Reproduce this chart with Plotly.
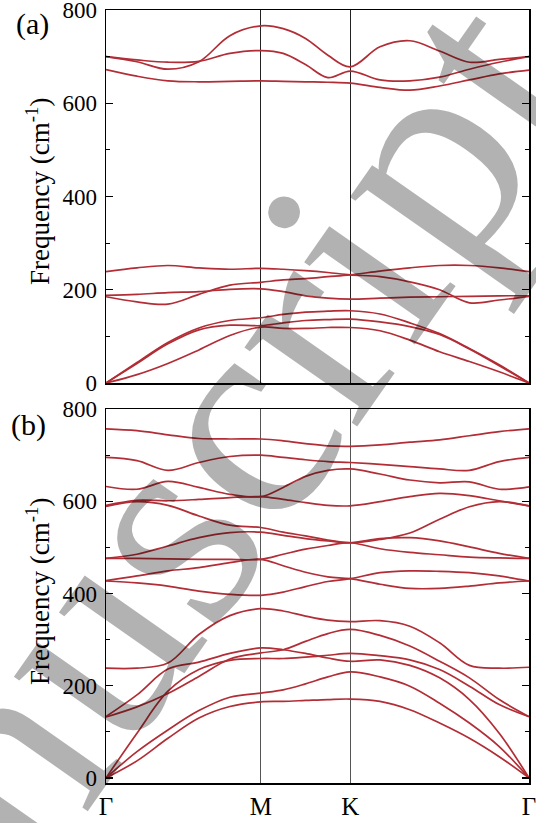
import plotly.graph_objects as go

# ---------------- k-path (Γ-M-K-Γ) ----------------
k_path = [0.0, 0.1155, 0.2309, 0.3464, 0.4619, 0.5774,
          0.6607, 0.7440, 0.8274, 0.9107,
          1.0218, 1.1329, 1.2440, 1.3552, 1.4663, 1.5774]
sym_pos = [0.0, 0.5774, 0.9107, 1.5774]
sym_labels = ["Γ", "M", "K", "Γ"]
y_ticks = [0, 200, 400, 600, 800]

# ---------------- panel (a) bands (cm^-1) ----------------
a_band1 = [672, 658, 648, 646, 647, 648, 647, 646, 645, 643, 634, 628, 637, 650, 663, 671]
a_band2 = [700, 689, 673, 689, 745, 766, 760, 739, 703, 678, 721, 734, 712, 688, 694, 700]
a_band3 = [700, 693, 688, 690, 707, 713, 707, 683, 655, 669, 650, 648, 656, 673, 688, 700]
a_band4 = [239, 247, 252, 247, 244, 246, 244, 241, 237, 232, 228, 217, 200, 172, 178, 186]
a_band5 = [185, 174, 169, 190, 210, 216, 221, 224, 228, 232, 240, 247, 252, 252, 247, 239]
a_band6 = [188, 190, 194, 196, 201, 202, 196, 187, 182, 180, 182, 184, 185, 186, 187, 187]
a_band7 = [0, 44, 87, 118, 134, 140, 147, 152, 154, 155, 148, 129, 106, 74, 39, 0]
a_band8 = [0, 42, 84, 114, 124, 123, 129, 134, 136, 137, 131, 121, 104, 73, 37, 0]
a_band9 = [0, 18, 42, 71, 102, 120, 117, 117, 119, 119, 112, 92, 67, 46, 24, 0]

# ---------------- panel (b) bands (cm^-1) ----------------
b_band1 = [757, 753, 744, 736, 735, 735, 731, 725, 720, 719, 722, 728, 733, 742, 751, 757]
b_band2 = [695, 688, 667, 684, 697, 700, 695, 690, 686, 684, 680, 675, 670, 667, 686, 695]
b_band3 = [632, 626, 643, 630, 615, 610, 630, 654, 667, 670, 659, 646, 640, 642, 626, 631]
b_band4 = [591, 602, 601, 604, 608, 610, 604, 597, 591, 590, 599, 610, 617, 612, 601, 590]
b_band5 = [589, 599, 591, 568, 548, 543, 533, 525, 516, 510, 517, 531, 561, 588, 599, 590]
b_band6 = [476, 485, 503, 521, 532, 533, 526, 519, 514, 510, 519, 521, 514, 501, 487, 476]
b_band7 = [476, 476, 475, 474, 474, 474, 485, 496, 504, 510, 497, 489, 484, 479, 477, 476]
b_band8 = [428, 438, 449, 456, 467, 474, 460, 446, 436, 432, 420, 411, 411, 416, 423, 427]
b_band9 = [427, 423, 416, 405, 398, 396, 403, 415, 426, 432, 445, 449, 448, 445, 438, 427]
b_band10 = [238, 238, 249, 311, 352, 367, 362, 351, 342, 339, 341, 329, 293, 244, 238, 240]
b_band11 = [133, 180, 236, 251, 270, 282, 278, 270, 260, 253, 256, 244, 217, 170, 97, 0]
b_band12 = [132, 154, 183, 220, 258, 271, 278, 296, 313, 322, 309, 286, 253, 217, 170, 133]
b_band13 = [0, 97, 188, 235, 255, 259, 259, 262, 266, 270, 265, 256, 235, 199, 159, 133]
b_band14 = [0, 57, 104, 146, 175, 184, 191, 204, 219, 230, 219, 199, 162, 119, 68, 0]
b_band15 = [0, 37, 86, 130, 155, 165, 166, 168, 170, 171, 166, 148, 119, 86, 46, 0]

panel_a = [a_band1, a_band2, a_band3, a_band4, a_band5, a_band6, a_band7, a_band8, a_band9]
panel_b = [b_band1, b_band2, b_band3, b_band4, b_band5, b_band6, b_band7, b_band8,
           b_band9, b_band10, b_band11, b_band12, b_band13, b_band14, b_band15]

LINE = "#b22d35"
FONT = "Liberation Serif, Times New Roman, Times, DejaVu Serif, serif"

fig = go.Figure()
for band in panel_a:
    fig.add_trace(go.Scatter(x=k_path, y=band, mode="lines", xaxis="x", yaxis="y",
                             line=dict(color=LINE, width=1.7, shape="spline", smoothing=1.0),
                             showlegend=False, hoverinfo="skip"))
for band in panel_b:
    fig.add_trace(go.Scatter(x=k_path, y=band, mode="lines", xaxis="x2", yaxis="y2",
                             line=dict(color=LINE, width=1.7, shape="spline", smoothing=1.0),
                             showlegend=False, hoverinfo="skip"))

W, H = 536, 823
ml, mr, mt, mb = 106, 7, 10, 40
ph = H - mt - mb
pw = W - ml - mr

def px_x(x):
    return (x - ml) / pw

def px_y(y):
    return (H - mb - y) / ph

xcommon = dict(range=[0, 1.5774], tickvals=sym_pos, showgrid=True, gridwidth=1,
               showline=True, linecolor="black", linewidth=1.5, mirror=True,
               ticks="", zeroline=False, fixedrange=True, automargin=False,
               ticklabeloverflow="allow")
ycommon = dict(tickvals=y_ticks, ticks="inside", ticklen=7, tickwidth=1.2, tickcolor="black",
               minor=dict(ticks="inside", ticklen=4, dtick=100, tick0=0, tickcolor="black", tickwidth=1.2),
               showline=True, linecolor="black", linewidth=1.5, mirror="ticks",
               showgrid=False, zeroline=False, automargin=False, ticklabeloverflow="allow",
               fixedrange=True,
               tickfont=dict(family=FONT, size=23, color="black"), ticklabelstandoff=3)

fig.update_layout(
    width=W, height=H,
    margin=dict(l=ml, r=mr, t=mt, b=mb, autoexpand=False),
    paper_bgcolor="white", plot_bgcolor="white",
    font=dict(family=FONT, color="black"),
    xaxis=dict(**xcommon, anchor="y", domain=[0, 1], showticklabels=False, gridcolor="#222222"),
    yaxis=dict(**ycommon, anchor="x", domain=[px_y(383), 1.0], range=[0, 800]),
    xaxis2=dict(**xcommon, anchor="y2", domain=[0, 1], ticktext=sym_labels, gridcolor="#555555",
                tickfont=dict(family=FONT, size=25, color="black"), ticklabelstandoff=0),
    yaxis2=dict(**ycommon, anchor="x2", domain=[0, px_y(409)], range=[-11, 800]),
    annotations=[
        dict(text="(a)", x=px_x(14), y=px_y(24), xref="paper", yref="paper",
             xanchor="left", yanchor="middle", showarrow=False,
             font=dict(family=FONT, size=30, color="black")),
        dict(text="(b)", x=px_x(9), y=px_y(425), xref="paper", yref="paper",
             xanchor="left", yanchor="middle", showarrow=False,
             font=dict(family=FONT, size=30, color="black")),
        dict(text="Frequency (cm<sup>-1</sup>)", x=px_x(38), y=px_y(192), xref="paper", yref="paper",
             xanchor="center", yanchor="middle", showarrow=False, textangle=-90,
             font=dict(family=FONT, size=27, color="black")),
        dict(text="Frequency (cm<sup>-1</sup>)", x=px_x(38), y=px_y(592), xref="paper", yref="paper",
             xanchor="center", yanchor="middle", showarrow=False, textangle=-90,
             font=dict(family=FONT, size=27, color="black")),
        dict(text="Manuscript", x=px_x(118), y=px_y(592), xref="paper", yref="paper",
             xanchor="center", yanchor="middle", showarrow=False, textangle=-55,
             font=dict(family=FONT, size=300, color="rgba(0,0,0,0.3)")),
    ],
)

fig.write_html("out.html", config={"displayModeBar": False, "staticPlot": True},
               post_script="document.body.style.margin='0px';document.body.style.overflow='hidden';")
